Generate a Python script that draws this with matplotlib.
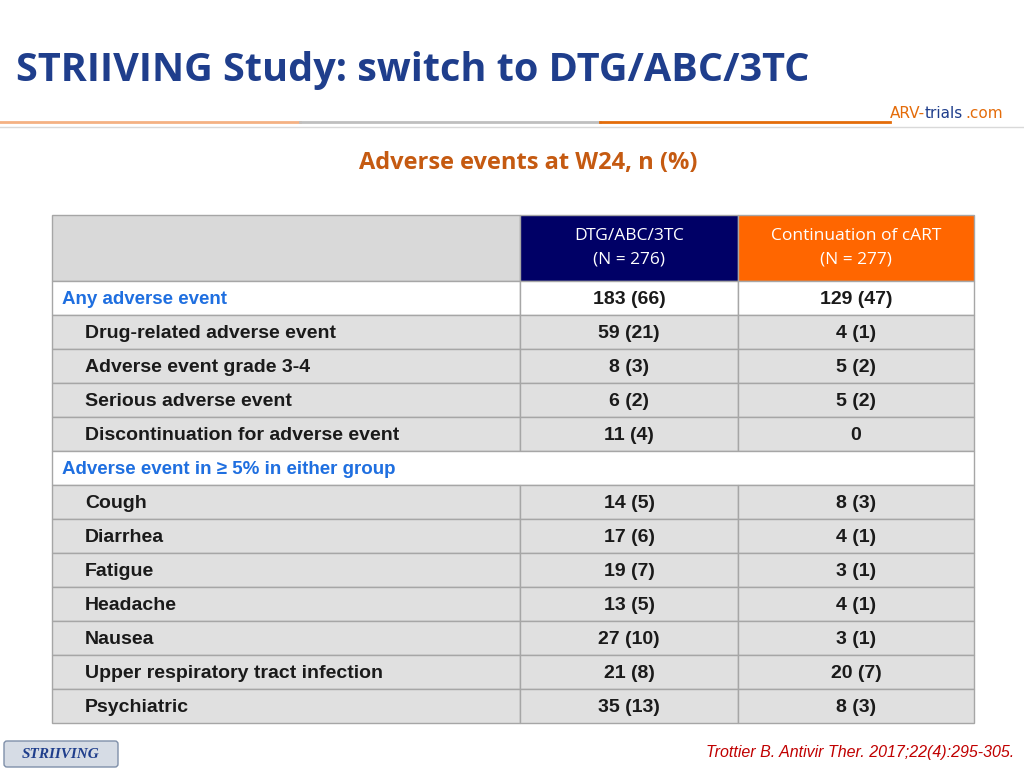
import matplotlib
matplotlib.use("Agg")
import matplotlib.pyplot as plt
from matplotlib.patches import Rectangle, FancyBboxPatch

title = "STRIIVING Study: switch to DTG/ABC/3TC"
subtitle = "Adverse events at W24, n (%)"
col_headers = ["DTG/ABC/3TC\n(N = 276)", "Continuation of cART\n(N = 277)"]
row_labels = ["Any adverse event", "Drug-related adverse event", "Adverse event grade 3-4",
              "Serious adverse event", "Discontinuation for adverse event",
              "Adverse event in \u2265 5% in either group",
              "Cough", "Diarrhea", "Fatigue", "Headache", "Nausea",
              "Upper respiratory tract infection", "Psychiatric"]
dtg_vals = ["183 (66)", "59 (21)", "8 (3)", "6 (2)", "11 (4)", None,
            "14 (5)", "17 (6)", "19 (7)", "13 (5)", "27 (10)", "21 (8)", "35 (13)"]
cart_vals = ["129 (47)", "4 (1)", "5 (2)", "5 (2)", "0", None,
             "8 (3)", "4 (1)", "3 (1)", "4 (1)", "3 (1)", "20 (7)", "8 (3)"]
row_kind = ["main", "sub", "sub", "sub", "sub", "section",
            "sub", "sub", "sub", "sub", "sub", "sub", "sub"]
citation = "Trottier B. Antivir Ther. 2017;22(4):295-305."

fig = plt.figure(figsize=(10.24, 7.68), dpi=100)
ax = fig.add_axes([0, 0, 1, 1])
ax.set_xlim(0, 1024); ax.set_ylim(768, 0); ax.axis("off")

ax.text(16, 70, title, fontsize=28.5, fontweight="bold", color="#1F3E8C",
        family="Open Sans", va="center", ha="left")
ax.plot([0, 300], [122, 122], color="#F4B183", lw=2)
ax.plot([300, 600], [122, 122], color="#BFBFBF", lw=2)
ax.plot([600, 890], [122, 122], color="#E46C0A", lw=2)
ax.plot([0, 1024], [127, 127], color="#D9D9D9", lw=1)
ax.text(890, 113, "ARV-", fontsize=11, color="#E46C0A", va="center", ha="left")
ax.text(925, 113, "trials", fontsize=11, color="#1F3E8C", va="center", ha="left")
ax.text(965, 113, ".com", fontsize=11, color="#E46C0A", va="center", ha="left")
ax.text(528, 163, subtitle, fontsize=17, fontweight="bold", color="#C55A11",
        family="Open Sans", va="center", ha="center")

x0, x1, x2, x3 = 52, 520, 738, 974
hy0, hy1 = 215, 281
rh = 34
edge = "#A6A6A6"
ax.add_patch(Rectangle((x0, hy0), x1 - x0, hy1 - hy0, fc="#D9D9D9", ec=edge, lw=1))
ax.add_patch(Rectangle((x1, hy0), x2 - x1, hy1 - hy0, fc="#000066", ec=edge, lw=1))
ax.add_patch(Rectangle((x2, hy0), x3 - x2, hy1 - hy0, fc="#FF6600", ec=edge, lw=1))
for xa, xb, h in [(x1, x2, col_headers[0]), (x2, x3, col_headers[1])]:
    ax.text((xa + xb) / 2, (hy0 + hy1) / 2, h, fontsize=12.5, color="white",
            family="Open Sans", ha="center", va="center", linespacing=1.6)

for i, lab in enumerate(row_labels):
    y = hy1 + i * rh
    yc = y + rh / 2 + 1.5
    kind = row_kind[i]
    fc = "white" if kind in ("main", "section") else "#E0E0E0"
    if kind == "section":
        ax.add_patch(Rectangle((x0, y), x3 - x0, rh, fc=fc, ec=edge, lw=1))
    else:
        for xa, xb in [(x0, x1), (x1, x2), (x2, x3)]:
            ax.add_patch(Rectangle((xa, y), xb - xa, rh, fc=fc, ec=edge, lw=1))
    if kind == "sub":
        ax.text(85, yc, lab, fontsize=14, fontweight="bold", color="#1a1a1a",
                family="Liberation Sans", va="center")
    else:
        ax.text(62, yc, lab, fontsize=13.5, fontweight="bold", color="#1F6FE0",
                family="Liberation Sans", va="center")
    if dtg_vals[i] is not None:
        ax.text((x1 + x2) / 2, yc, dtg_vals[i], fontsize=14, fontweight="bold",
                color="#1a1a1a", family="Liberation Sans", ha="center", va="center")
        ax.text((x2 + x3) / 2, yc, cart_vals[i], fontsize=14, fontweight="bold",
                color="#1a1a1a", family="Liberation Sans", ha="center", va="center")

ax.add_patch(FancyBboxPatch((4, 741), 114, 26, boxstyle="round,pad=0,rounding_size=3",
                            fc="#D6DCE5", ec="#7F8FA9", lw=1))
ax.text(61, 754, "STRIIVING", fontsize=11, fontstyle="italic", fontweight="bold",
        color="#1F3E8C", family="Liberation Serif", ha="center", va="center")
ax.text(1014, 752, citation, fontsize=11.5, fontstyle="italic", color="#C00000",
        family="Liberation Sans", ha="right", va="center")

fig.savefig("out.png", dpi=100)
